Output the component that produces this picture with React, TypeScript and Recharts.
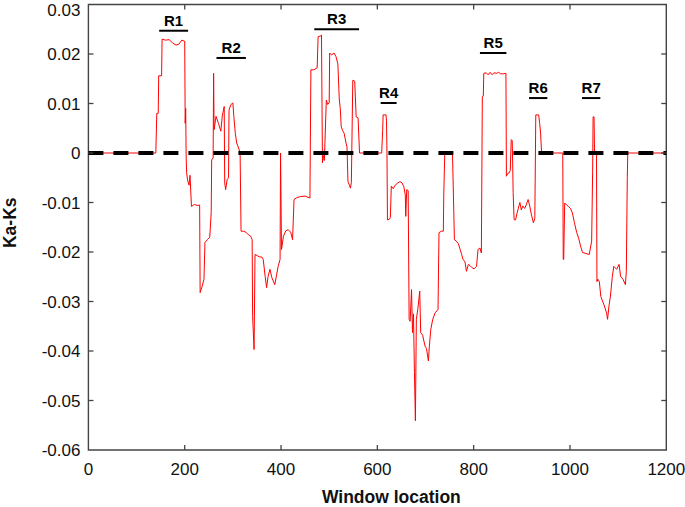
import React from "react";
import { LineChart, Line, XAxis, YAxis, ReferenceLine, ReferenceArea } from "recharts";

// window location (x) and Ka-Ks value
const windowX = [
  0, 140, 142, 145, 146, 152, 153, 160, 168, 175, 182, 188, 194, 199, 200, 201, 202, 203, 204,
  206, 209, 211, 214, 220, 226, 231, 232, 236, 240, 242, 247, 252, 255, 256, 259,
  260, 261, 265, 270, 275, 278, 282, 283, 285, 288, 291, 292, 296, 300, 302, 305, 308, 312, 315,
  317, 322, 327, 332, 337, 340, 341, 344, 346, 350, 355, 360, 363, 367, 370, 373, 377, 381, 387,
  391, 394, 398, 399, 401, 405, 410, 415, 420, 424, 427, 433, 440, 450, 460,
  462, 468, 475, 477, 481, 484, 486, 488, 490, 494, 497, 500, 501, 505, 510, 514, 518, 521, 523,
  525, 528, 531, 535, 537, 539, 542, 544, 546, 549, 553, 556, 560, 563,
  609, 611, 612, 618, 619, 620, 621, 625, 627, 629, 633, 637, 643, 647, 651, 655, 658, 659, 661,
  664, 666, 668, 671, 673, 675, 677, 679, 681, 684, 688, 690, 694, 699, 702, 706, 708, 711, 715,
  720, 726, 728, 733, 737, 738, 740,
  756, 758, 760, 764, 768, 772, 775, 778, 782, 785, 789, 793, 797, 801, 806, 809, 813, 816, 818,
  820, 821, 826, 830, 834, 838, 842, 848, 852, 856, 862, 867,
  868, 870, 874, 876, 878, 880, 881, 882, 884, 887, 890, 894, 896, 899, 902, 906, 909, 913, 916,
  920, 924, 927, 929, 935, 937, 939, 941, 985,
  986, 987, 989, 993, 997, 1001, 1005, 1009, 1014, 1018, 1022, 1026, 1033, 1040, 1045, 1047, 1048,
  1050, 1051, 1055, 1056, 1058, 1061, 1064, 1070, 1076, 1078, 1081, 1084, 1088, 1091, 1097, 1102,
  1105, 1110, 1115, 1117, 1119, 1120, 1200,
];

const kaKs = [
  0, 0, 0.008, 0.008, 0.0156, 0.0156, 0.023, 0.0228, 0.0229, 0.0222, 0.0218, 0.022, 0.0228, 0.0226,
  0.0226, 0.006, 0.009, -0.001, -0.004,
  -0.0055, -0.0065, -0.0045, -0.0108, -0.0104, -0.0106, -0.0105, -0.0282, -0.027, -0.0255, -0.0181,
  -0.0175, -0.017, -0.012, -0.0014, -0.001,
  0.0161, 0.0047, 0.0074, 0.006, 0.0044, 0.0075, 0.0094, -0.006, -0.0074, -0.0054, -0.005, 0.0087,
  0.0098, 0.0101, 0.0074, 0.004, 0.002, 0.001, 0,
  -0.0158, -0.0158, -0.016, -0.0165, -0.0168, -0.0175, -0.033, -0.0397, -0.0205, -0.0207, -0.021,
  -0.021, -0.0215, -0.0249, -0.0272, -0.025, -0.0235, -0.0252, -0.0266,
  -0.0245, -0.0229, -0.0215, 0, -0.0195, -0.0168, -0.0157, -0.0155, -0.016, -0.0175, -0.0094,
  -0.009, -0.0088, -0.0087, -0.0091,
  0.0168, 0.0168, 0.0172, 0.0235, 0.0236, 0.0238, -0.002, -0.0005, -0.0015, 0.0107, 0.0098, 0.0102,
  0.0202, 0.0198, 0.0202, 0.0195, 0.018, 0.0107, 0.009,
  0.0053, 0.0045, 0.004, 0.002, 0.0012, -0.0058, -0.0065, -0.0071, -0.006, 0.0147, 0.0145, 0.0073,
  0.0071, 0,
  0, 0.0045, 0.0077, 0.0077, 0.0065, 0, -0.0135, -0.0134, -0.013, -0.0067, -0.0072, -0.0065, -0.006,
  -0.0058, -0.006, -0.0068, -0.0085, -0.0128, -0.0074,
  -0.0076, -0.0336, -0.034, -0.0276, -0.0363, -0.0325, -0.0443, -0.0541, -0.0336, -0.0316, -0.0279,
  -0.0363, -0.0368, -0.039, -0.0395, -0.042, -0.039, -0.0356, -0.0336,
  -0.0323, -0.0316, -0.0161, -0.0158, -0.0158, -0.0081, 0,
  0, -0.0087, -0.0175, -0.0178, -0.0183, -0.0195, -0.0205, -0.0215, -0.022, -0.0239, -0.0225,
  -0.0228, -0.0232, -0.0234, -0.0229, -0.0195, -0.0192, -0.0202, 0.0114,
  0.0115, 0.0161, 0.0162, 0.0158, 0.0163, 0.0158, 0.0162, 0.0161, 0.0163, 0.016, 0.016, 0.0161,
  -0.0047, -0.0042, -0.004, -0.0035, 0.0027, 0.0025, -0.002, -0.008, -0.0135, -0.0135, -0.0122,
  -0.0107, -0.01, -0.0115, -0.0107, -0.0112, -0.0105, -0.0094, -0.0105,
  -0.0125, -0.0141, -0.0132, 0.0077, 0.0077, 0.006, 0.004, 0, 0,
  -0.0215, -0.0215, -0.0101, -0.0105, -0.0108, -0.0112, -0.0121, -0.014, -0.0161, -0.0172, -0.0188,
  -0.0201, -0.0203, -0.0205, -0.0178, -0.004, 0.0073,
  0.0073, 0, 0, -0.026, -0.0255, -0.026, -0.029, -0.0305, -0.0323, -0.0336, -0.0309, -0.0289,
  -0.0249, -0.0229, -0.0235, -0.0225,
  -0.0249, -0.0255, -0.0266, -0.0239, -0.005, 0, 0,
];

const xTicks = [0, 200, 400, 600, 800, 1000, 1200];
const yTicks = [-0.06, -0.05, -0.04, -0.03, -0.02, -0.01, 0, 0.01, 0.02, 0.03];
const xDomain: [number, number] = [0, 1200];
const yDomain: [number, number] = [-0.06, 0.03];

const regionNames = ["R1", "R2", "R3", "R4", "R5", "R6", "R7"];
const regionStart = [147, 266, 469, 607, 813, 915, 1025];
const regionEnd = [207, 327, 562, 640, 868, 953, 1063];
const regionLevel = [0.0247, 0.0192, 0.025, 0.0101, 0.0202, 0.0111, 0.0111];

const n = Math.min(windowX.length, kaKs.length);
const data = windowX.slice(0, n).map((x, i) => ({ x, v: kaKs[i] }));

const fmtY = (v: number) => (Math.abs(v) < 1e-9 ? "0" : v.toFixed(2));

const AXIS = "#444";
const FONT = "'Liberation Sans', Arial, sans-serif";
// inward tick mark lengths (about 5 px) expressed in axis units
const X_TICK_LEN = 10.5;
const Y_TICK_LEN = 0.001;

const YTitle = (props: any) => {
  const vb = props.viewBox || {};
  const cx = 9.5;
  const cy = vb.y + vb.height / 2 - 4.5;
  return (
    <text
      x={cx}
      y={cy}
      transform={`rotate(-90 ${cx} ${cy})`}
      textAnchor="middle"
      dominantBaseline="central"
      fontWeight="bold"
      fontSize={17.5}
      fill="#111"
    >
      Ka-Ks
    </text>
  );
};

export default function App() {
  const tickMarks: React.ReactNode[] = [];
  xTicks.slice(1, -1).forEach((t) => {
    tickMarks.push(
      <ReferenceLine
        key={`xb${t}`}
        segment={[{ x: t, y: yDomain[0] }, { x: t, y: yDomain[0] + Y_TICK_LEN }]}
        stroke={AXIS}
        strokeWidth={1.3}
      />,
      <ReferenceLine
        key={`xt${t}`}
        segment={[{ x: t, y: yDomain[1] }, { x: t, y: yDomain[1] - Y_TICK_LEN }]}
        stroke={AXIS}
        strokeWidth={1.3}
      />
    );
  });
  yTicks.slice(1, -1).forEach((t) => {
    tickMarks.push(
      <ReferenceLine
        key={`yl${t}`}
        segment={[{ x: xDomain[0], y: t }, { x: xDomain[0] + X_TICK_LEN, y: t }]}
        stroke={AXIS}
        strokeWidth={1.3}
      />,
      <ReferenceLine
        key={`yr${t}`}
        segment={[{ x: xDomain[1], y: t }, { x: xDomain[1] - X_TICK_LEN, y: t }]}
        stroke={AXIS}
        strokeWidth={1.3}
      />
    );
  });

  return (
    <div style={{ position: "absolute", left: 0, top: 0, fontFamily: FONT, background: "#fff" }}>
      <LineChart
        width={685}
        height={507}
        data={data}
        margin={{ top: 4.5, right: 18.7, bottom: 0, left: 0 }}
      >
        <XAxis
          dataKey="x"
          type="number"
          domain={xDomain}
          ticks={xTicks}
          allowDataOverflow
          height={57}
          tickSize={0}
          tickMargin={13}
          tickLine={false}
          axisLine={false}
          tick={{ fill: "#111", fontSize: 17 }}
          label={{
            value: "Window location",
            position: "insideBottom",
            offset: 4,
            dx: 14,
            fontWeight: "bold",
            fontSize: 17.5,
            fill: "#111",
          }}
        />
        <YAxis
          type="number"
          domain={yDomain}
          ticks={yTicks}
          allowDataOverflow
          width={88.4}
          tickSize={0}
          tickMargin={8}
          tickLine={false}
          axisLine={false}
          tickFormatter={fmtY}
          tick={{ fill: "#111", fontSize: 17 }}
          label={{ content: YTitle }}
        />
        <Line
          type="linear"
          dataKey="v"
          stroke="#ff0000"
          strokeWidth={1}
          dot={false}
          isAnimationActive={false}
        />
        <ReferenceLine y={0} stroke="#000" strokeWidth={4} strokeDasharray="15 10" />
        <ReferenceArea
          x1={xDomain[0]}
          x2={xDomain[1]}
          y1={yDomain[0]}
          y2={yDomain[1]}
          fill="none"
          fillOpacity={0}
          stroke={AXIS}
          strokeWidth={1.4}
        />
        {tickMarks}
        {regionNames.map((name, i) => (
          <ReferenceLine
            key={name}
            segment={[
              { x: regionStart[i], y: regionLevel[i] },
              { x: regionEnd[i], y: regionLevel[i] },
            ]}
            stroke="#000"
            strokeWidth={2}
            label={{
              value: name,
              position: "top",
              offset: 5,
              fontWeight: "bold",
              fontSize: 15,
              fill: "#000",
            }}
          />
        ))}
      </LineChart>
    </div>
  );
}
